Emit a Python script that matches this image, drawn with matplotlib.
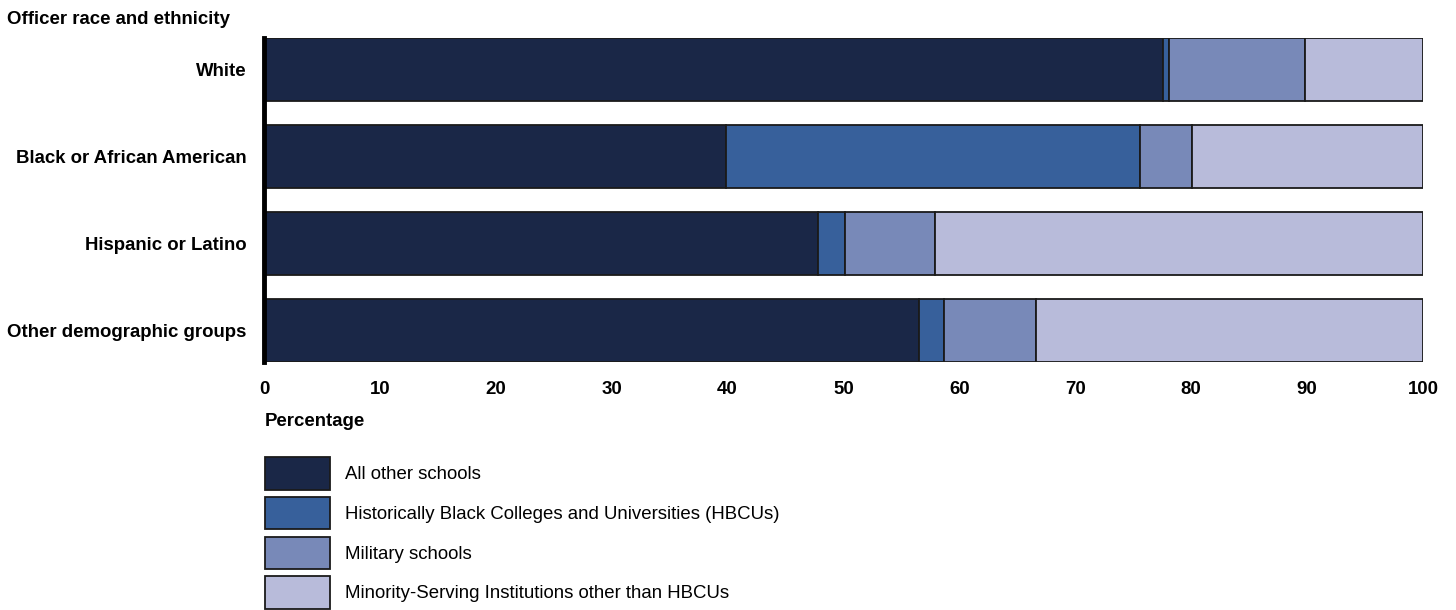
import matplotlib
matplotlib.use("Agg")
import matplotlib.pyplot as plt
import numpy as np

plt.rcParams["font.family"] = ["Liberation Sans", "DejaVu Sans"]

groups = ["White", "Black or African American", "Hispanic or Latino", "Other demographic groups"]
series_names = [
    "All other schools",
    "Historically Black Colleges and Universities (HBCUs)",
    "Military schools",
    "Minority-Serving Institutions other than HBCUs",
]
all_other = [77.6, 39.9, 47.8, 56.5]
hbcu = [0.5, 35.7, 2.3, 2.2]
military = [11.7, 4.5, 7.8, 7.9]
msi = [10.2, 19.9, 42.1, 33.4]
colors = ["#1a2747", "#37609b", "#7889b8", "#b8bbda"]

FS = 13.4

fig = plt.figure(figsize=(14.56, 6.10), dpi=100)
ax = fig.add_axes([264 / 1456, 1 - 362 / 610, (1423 - 264) / 1456, 324 / 610])

y = np.arange(len(groups))
left = np.zeros(len(groups))
handles = []
for vals, name, col in zip([all_other, hbcu, military, msi], series_names, colors):
    vals = np.array(vals)
    b = ax.barh(y, vals, left=left, height=0.73, color=col, edgecolor="#1a1a1a",
                linewidth=1.3, label=name)
    handles.append(b)
    left += vals

ax.set_xlim(0, 100)
ax.set_ylim(len(groups) - 0.5 - 0.135, -0.5 + 0.135)
ax.set_yticks(y)
ax.set_yticklabels(groups, fontsize=FS, fontweight="bold")
ax.set_xticks(np.arange(0, 101, 10))
ax.set_xticklabels([str(v) for v in range(0, 101, 10)], fontsize=FS, fontweight="bold")
ax.tick_params(axis="y", length=0, pad=12.5)
ax.tick_params(axis="x", length=0, pad=13.5)
for s in ["top", "right", "bottom"]:
    ax.spines[s].set_visible(False)
ax.spines["left"].set_linewidth(3.5)
ax.spines["left"].set_color("black")

fig.text(7 / 1456, 1 - 19 / 610, "Officer race and ethnicity", fontsize=FS,
         fontweight="bold", ha="left", va="center")
fig.text(265 / 1456, 1 - 421 / 610, "Percentage", fontsize=FS,
         fontweight="bold", ha="left", va="center")

leg = fig.legend(handles=handles, labels=series_names, loc="upper left",
                 bbox_to_anchor=(258 / 1456, 1 - 450 / 610), frameon=False,
                 fontsize=FS, handlelength=3.45, handleheight=2.3,
                 labelspacing=0.39, handletextpad=0.84, borderaxespad=0)

fig.savefig("out.png", dpi=100)
